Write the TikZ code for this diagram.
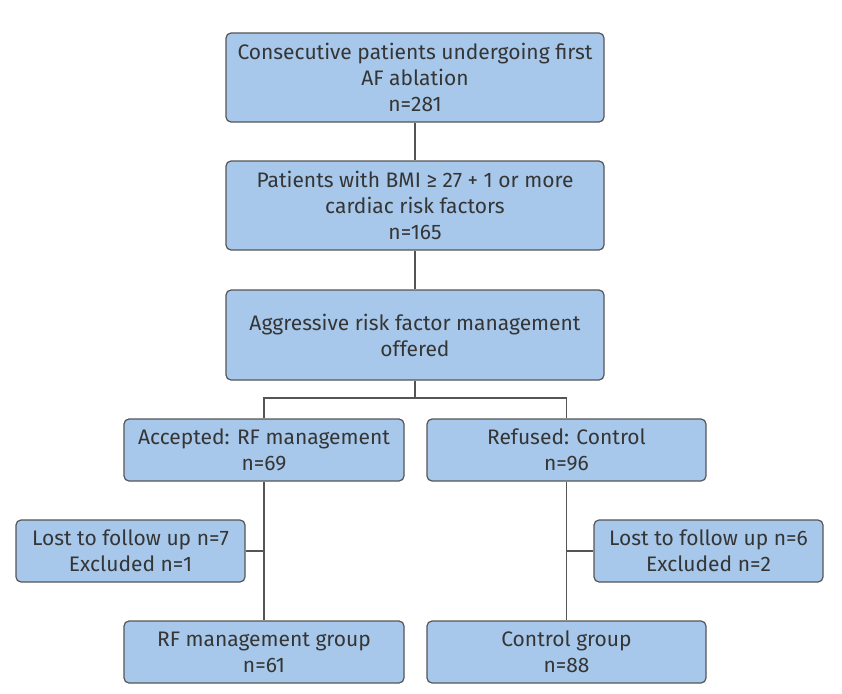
\documentclass[tikz,border=0pt]{standalone}
\usepackage{fontspec}
\setmainfont{Fira Sans}
\usepackage{xcolor}
\usetikzlibrary{positioning}
\definecolor{boxfill}{HTML}{A7C8EA}
\definecolor{boxline}{HTML}{555555}
\definecolor{txt}{HTML}{353535}

\begin{document}
\begin{tikzpicture}[x=1pt,y=-1pt,font=\fontsize{21}{26}\selectfont,
box/.style={draw=boxline,fill=boxfill,text=txt,rounded corners=5pt,align=center,line width=1.2pt,inner sep=0pt},
bigbox/.style={box,minimum width=378pt,minimum height=89pt},
midbox/.style={box,minimum width=280pt,minimum height=62pt},
sidebox/.style={box,minimum width=229pt,minimum height=62pt},
link/.style={draw=boxline,line width=1.5pt}]
\useasboundingbox (0,0) rectangle (842,693);
\node[bigbox] (cohort) at (415,77.5) {Consecutive patients undergoing first\\AF ablation\\n=281};
\node[bigbox] (bmi) at (415,205.5) {Patients with BMI ≥ 27 + 1 or more\\cardiac risk factors\\n=165};
\node[bigbox,minimum height=90pt] (offer) at (415,335) {Aggressive risk factor management\\offered};
\node[midbox] (accept) at (264,450) {Accepted: RF management\\n=69};
\node[midbox,minimum width=279pt] (refuse) at (566.5,450) {Refused: Control\\n=96};
\node[sidebox] (lostrf) at (130.5,551) {Lost to follow up n=7\\Excluded n=1};
\node[sidebox] (lostctl) at (708.5,551) {Lost to follow up n=6\\Excluded n=2};
\node[midbox] (rfgroup) at (264,652) {RF management group\\n=61};
\node[midbox,minimum width=279pt] (ctlgroup) at (566.5,652) {Control group\\n=88};
\coordinate (split) at (415,398);
\draw[link] (cohort)--(bmi);
\draw[link] (bmi)--(offer);
\draw[link] (offer.south)--(split);
\draw[link] (split)-|(accept.north);
\draw[link] (split)-|(refuse.north);
\draw[link] (accept)--(rfgroup);
\draw[link] (refuse)--(ctlgroup);
\draw[link] (lostrf.east)--(lostrf.east-|accept.south);
\draw[link] (lostctl.west)--(lostctl.west-|refuse.south);
\end{tikzpicture}
\end{document}
